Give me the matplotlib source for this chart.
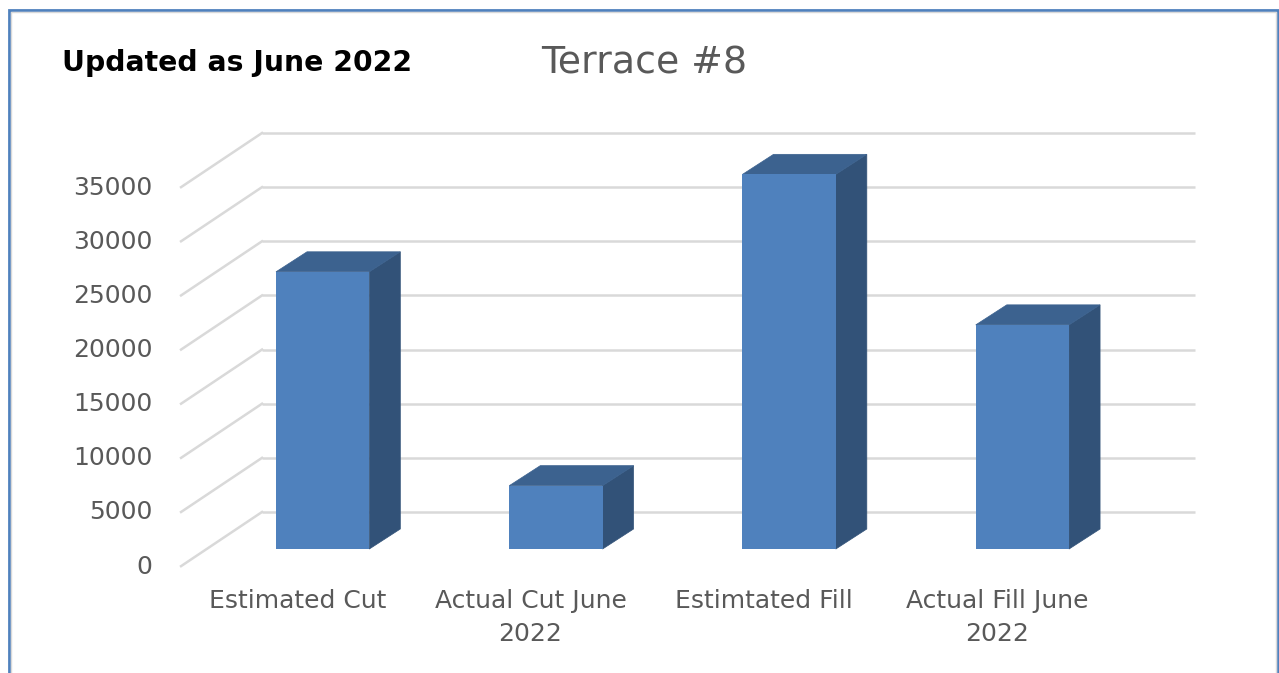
import matplotlib

matplotlib.use("Agg")
import matplotlib.pyplot as plt
from matplotlib.patches import Polygon, Rectangle

W, H = 1279, 673

categories = ["Estimated Cut", "Actual Cut June\n2022", "Estimtated Fill", "Actual Fill June\n2022"]
values = [25600, 5850, 34600, 20700]
y_ticks = [0, 5000, 10000, 15000, 20000, 25000, 30000, 35000]

# oblique offsets, in data units (1 category = 233.3 px, 5000 = 54.14 px)
FLOOR_DX, FLOOR_DY = -0.347, -5000
BAR_DX, BAR_DY = -0.24, -3420
SIDE_DX, SIDE_DY = 0.133, 1850
BAR_W = 0.4

plt.rcParams["font.family"] = ["DejaVu Sans"]

fig = plt.figure(figsize=(W / 100, H / 100), dpi=100, facecolor="white")

# chart frame, in pixels
frame = fig.add_axes([0, 0, 1, 1])
frame.set_xlim(0, W)
frame.set_ylim(H, 0)
frame.axis("off")
frame.add_patch(Rectangle((8.5, 10), 1269, 680, fc="white", ec="#4f81bd", lw=2))
frame.add_patch(Rectangle((10.5, 12), 1265, 680, fc="none", ec="#d9d9d9", lw=1))
frame.text(62, 63, "Updated as June 2022", fontsize=20.3, fontweight="bold", color="black", va="center")
frame.text(644, 64, "Terrace #8", fontsize=27.3, color="#595959", va="center", ha="center")

# back wall of the plot: x 262-1195, y 512-133 px
ax = fig.add_axes([262 / W, 1 - 512 / H, 933 / W, 379 / H])
ax.set_xlim(0, 4)
ax.set_ylim(0, 35000)
ax.axis("off")

for tick in y_ticks:
    ax.plot([0, 4], [tick, tick], color="#d9d9d9", lw=1.8, clip_on=False, zorder=1, solid_capstyle="butt")
    ax.plot([FLOOR_DX, 0], [tick + FLOOR_DY, tick], color="#d9d9d9", lw=1.8, clip_on=False, zorder=1)
    ax.text(FLOOR_DX - 0.123, tick + FLOOR_DY + 190, str(tick), fontsize=18, color="#595959",
            ha="right", va="center_baseline", clip_on=False)

for i, (label, value) in enumerate(zip(categories, values)):
    left = i + 0.5 + BAR_DX - BAR_W / 2
    right = left + BAR_W
    base = BAR_DY
    top = value + BAR_DY
    ax.add_patch(Polygon([(right, base), (right + SIDE_DX, base + SIDE_DY), (right + SIDE_DX, top + SIDE_DY),
                          (right, top)], fc="#325278", ec="#325278", lw=0.5, clip_on=False, zorder=2))
    ax.add_patch(Polygon([(left, top), (right, top), (right + SIDE_DX, top + SIDE_DY),
                          (left + SIDE_DX, top + SIDE_DY)], fc="#3c628f", ec="#3c628f", lw=0.5, clip_on=False, zorder=2))
    ax.add_patch(Rectangle((left, base), BAR_W, value, fc="#4f81bd", ec="none", clip_on=False, zorder=3))
    ax.text(i + 0.5 - 0.349, FLOOR_DY - 2100, label, fontsize=18, color="#595959", ha="center", va="top",
            linespacing=1.48, clip_on=False)

fig.savefig("out.png", dpi=100)
